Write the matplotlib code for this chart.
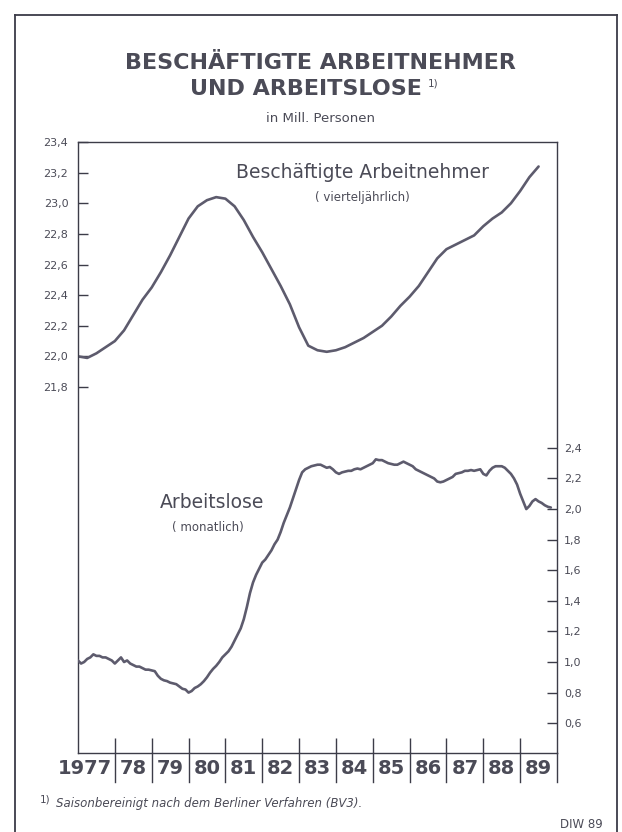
import matplotlib
matplotlib.use('Agg')
import matplotlib.pyplot as plt
import matplotlib.transforms as mtransforms
from matplotlib.lines import Line2D

# Datos (millones de personas)
# Beschaeftigte Arbeitnehmer, trimestral, desde 1977 T1 hasta 1989 T3
beschaeftigte = [
    22.00, 21.99, 22.02, 22.06,   # 1977
    22.10, 22.17, 22.27, 22.37,   # 1978
    22.45, 22.55, 22.66, 22.78,   # 1979
    22.90, 22.98, 23.02, 23.04,   # 1980
    23.03, 22.98, 22.89, 22.78,   # 1981
    22.68, 22.57, 22.46, 22.34,   # 1982
    22.19, 22.07, 22.04, 22.03,   # 1983
    22.04, 22.06, 22.09, 22.12,   # 1984
    22.16, 22.20, 22.26, 22.33,   # 1985
    22.39, 22.46, 22.55, 22.64,   # 1986
    22.70, 22.73, 22.76, 22.79,   # 1987
    22.85, 22.90, 22.94, 23.00,   # 1988
    23.08, 23.17, 23.24,          # 1989
]

# Arbeitslose, mensual, desde enero 1977 hasta noviembre 1989
arbeitslose = [
    1.01, 0.99, 1.00, 1.02, 1.03, 1.05, 1.04, 1.04, 1.03, 1.03, 1.02, 1.01,   # 1977
    0.99, 1.01, 1.03, 1.00, 1.01, 0.99, 0.98, 0.97, 0.97, 0.96, 0.95, 0.95,   # 1978
    0.945, 0.94, 0.91, 0.89, 0.88, 0.875, 0.865, 0.86, 0.855, 0.84, 0.825, 0.82,   # 1979
    0.80, 0.81, 0.83, 0.84, 0.855, 0.875, 0.90, 0.93, 0.955, 0.975, 1.00, 1.03,   # 1980
    1.05, 1.07, 1.10, 1.14, 1.18, 1.22, 1.28, 1.36, 1.45, 1.52, 1.57, 1.61,   # 1981
    1.65, 1.67, 1.70, 1.73, 1.77, 1.80, 1.85, 1.91, 1.96, 2.01, 2.07, 2.13,   # 1982
    2.19, 2.24, 2.26, 2.27, 2.28, 2.285, 2.29, 2.29, 2.28, 2.27, 2.275, 2.26,   # 1983
    2.24, 2.23, 2.24, 2.245, 2.25, 2.25, 2.26, 2.265, 2.26, 2.27, 2.28, 2.29,   # 1984
    2.30, 2.325, 2.32, 2.32, 2.31, 2.30, 2.295, 2.29, 2.29, 2.30, 2.31, 2.30,   # 1985
    2.29, 2.28, 2.26, 2.25, 2.24, 2.23, 2.22, 2.21, 2.20, 2.18, 2.175, 2.18,   # 1986
    2.19, 2.20, 2.21, 2.23, 2.235, 2.24, 2.25, 2.25, 2.255, 2.25, 2.255, 2.26,   # 1987
    2.23, 2.22, 2.25, 2.27, 2.28, 2.28, 2.28, 2.27, 2.25, 2.23, 2.20, 2.16,   # 1988
    2.10, 2.05, 2.00, 2.02, 2.05, 2.065, 2.05, 2.04, 2.025, 2.015, 2.01,   # 1989
]

jahr_labels = ["1977", "78", "79", "80", "81", "82", "83", "84", "85", "86", "87", "88", "89"]
links_ticks = [21.8, 22.0, 22.2, 22.4, 22.6, 22.8, 23.0, 23.2, 23.4]
links_labels = ["21,8", "22,0", "22,2", "22,4", "22,6", "22,8", "23,0", "23,2", "23,4"]
rechts_ticks = [0.6, 0.8, 1.0, 1.2, 1.4, 1.6, 1.8, 2.0, 2.2, 2.4]
rechts_labels = ["0,6", "0,8", "1,0", "1,2", "1,4", "1,6", "1,8", "2,0", "2,2", "2,4"]

# Colores
c_texto = '#4b4b57'
c_linea = '#5d5b6d'
c_eje = '#3c3c48'

W, H = 622, 832
fig = plt.figure(figsize=(W / 100, H / 100), dpi=100)
fig.patch.set_facecolor('white')

# Conversion de pixeles a fraccion de figura
def fx(px):
    return px / W

def fy(py):
    return 1 - py / H

# Marco exterior (izquierda, arriba, derecha)
for xs, ys in [([15, 15], [15, 832]), ([15, 617], [15, 15]), ([617, 617], [15, 832])]:
    fig.add_artist(Line2D([fx(v) for v in xs], [fy(v) for v in ys], color=c_eje, lw=1.3))

# Ejes principales: izquierda ocupados, derecha parados (misma escala)
ax1 = fig.add_axes([fx(78), fy(753), fx(557) - fx(78), fy(142) - fy(753)])
ax2 = ax1.twinx()

x_q = [1977 + i / 4 for i in range(len(beschaeftigte))]
x_m = [1977 + i / 12 for i in range(len(arbeitslose))]

ax1.plot(x_q, beschaeftigte, color=c_linea, lw=1.9, solid_capstyle='round')
ax2.plot(x_m, arbeitslose, color=c_linea, lw=1.9, solid_capstyle='round', solid_joinstyle='round')

ax1.set_xlim(1977, 1990)
ax1.set_ylim(19.41, 23.4)
ax2.set_ylim(0.405, 4.4)

for s in ax1.spines.values():
    s.set_color(c_eje)
    s.set_linewidth(1.0)
for s in ax2.spines.values():
    s.set_visible(False)

# Eje izquierdo
ax1.set_yticks(links_ticks)
ax1.set_yticklabels(links_labels)
ax1.tick_params(axis='y', direction='in', length=7, width=1.0, color=c_eje,
                labelsize=8, labelcolor=c_texto, pad=7, right=False)

# Eje derecho
ax2.set_yticks(rechts_ticks)
ax2.set_yticklabels(rechts_labels)
ax2.tick_params(axis='y', direction='in', length=7, width=1.0, color=c_eje,
                labelsize=8, labelcolor=c_texto, pad=5, left=False)

# Eje x: marcas hacia dentro y separadores por debajo
ax1.set_xticks(range(1978, 1990))
ax1.tick_params(axis='x', direction='in', length=11, width=1.0, color=c_eje,
                labelbottom=False, top=False)
trans = mtransforms.blended_transform_factory(ax1.transData, ax1.transAxes)
for yr in range(1978, 1991):
    ax1.plot([yr, yr], [0, -0.048], transform=trans, clip_on=False, color=c_eje, lw=1.0)

for i, lbl in enumerate(jahr_labels):
    if i == 0:
        # "1977" es mas ancho y se alinea al separador de 1978
        ax1.text(1978 - 0.07, -0.026, lbl, transform=trans, ha='right', va='center',
                 fontsize=14, fontweight='bold', color=c_texto)
    else:
        ax1.text(1977 + i + 0.5, -0.026, lbl, transform=trans, ha='center', va='center',
                 fontsize=14, fontweight='bold', color=c_texto)

# Rotulos de las series
fig.text(fx(362), fy(172), "Beschäftigte Arbeitnehmer", ha='center', va='center',
         fontsize=13.5, color=c_texto)
fig.text(fx(362), fy(197), "( vierteljährlich)", ha='center', va='center', fontsize=8.5, color=c_texto)
fig.text(fx(212), fy(503), "Arbeitslose", ha='center', va='center', fontsize=13.5, color=c_texto)
fig.text(fx(208), fy(528), "( monatlich)", ha='center', va='center', fontsize=8.5, color=c_texto)

# Titulo
fig.text(fx(320), fy(63), "BESCHÄFTIGTE ARBEITNEHMER", ha='center', va='center',
         fontsize=16, fontweight='bold', color=c_texto)
t2 = fig.text(fx(306), fy(89), "UND ARBEITSLOSE", ha='center', va='center',
              fontsize=16, fontweight='bold', color=c_texto)
ax1.annotate("1)", xy=(1, 1), xycoords=t2, xytext=(4, 0), textcoords='offset points',
             ha='left', va='top', fontsize=7.5, color=c_texto, annotation_clip=False)
fig.text(fx(320), fy(119), "in Mill. Personen", ha='center', va='center', fontsize=9.5, color=c_texto)

# Nota al pie
fig.text(fx(40), fy(799), "1)", ha='left', va='center', fontsize=7.5, color=c_texto)
fig.text(fx(56), fy(803), "Saisonbereinigt nach dem Berliner Verfahren (BV3).", ha='left', va='center',
         fontsize=8.5, style='italic', color=c_texto)
fig.text(fx(603), fy(825), "DIW 89", ha='right', va='center', fontsize=8.5, color=c_texto)

fig.savefig('out.png', dpi=100, facecolor='white')
